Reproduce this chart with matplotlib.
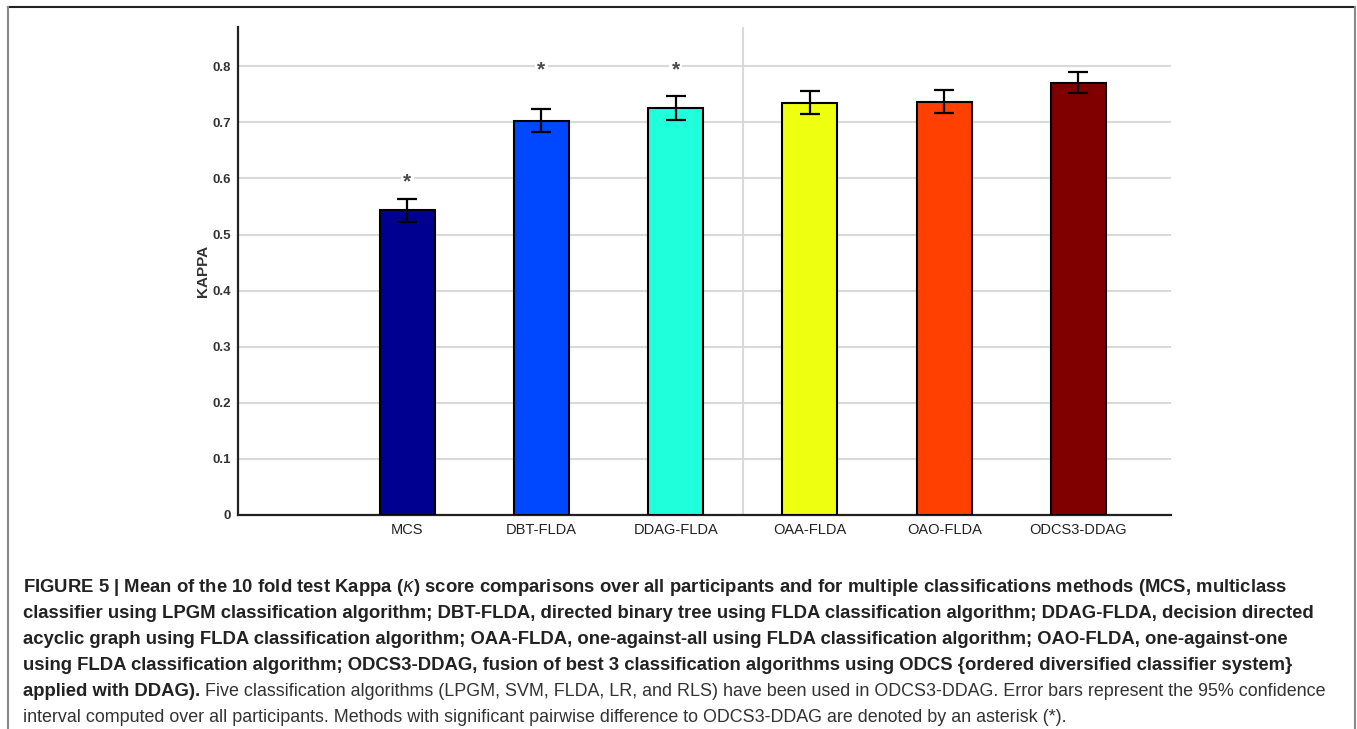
import matplotlib.pyplot as plt
from matplotlib.lines import Line2D
import numpy as np

plt.rcParams['font.family'] = ['Liberation Sans', 'DejaVu Sans']

# data
methods = ['MCS', 'DBT-FLDA', 'DDAG-FLDA', 'OAA-FLDA', 'OAO-FLDA', 'ODCS3-DDAG']
kappa = [0.543, 0.703, 0.726, 0.735, 0.737, 0.771]
ci95 = [0.020, 0.021, 0.021, 0.021, 0.021, 0.018]
colors = ['#000090', '#0048FF', '#20FFDC', '#EEFF10', '#FF4000', '#800000']
signif = [True, True, True, False, False, False]
star_y = [0.594, 0.793, 0.793, None, None, None]
yticks = [0, 0.1, 0.2, 0.3, 0.4, 0.5, 0.6, 0.7, 0.8]

fig = plt.figure(figsize=(13.57, 7.29), dpi=100)
ax = fig.add_axes([0.1754, 0.2936, 0.6876, 0.6694])

x = np.arange(1, len(methods) + 1)
ax.bar(x, kappa, width=0.41, color=colors, edgecolor='black', linewidth=1.5, zorder=3)
ax.errorbar(x, kappa, yerr=ci95, fmt='none', ecolor='black', elinewidth=1.6,
            capsize=7.2, capthick=1.6, zorder=4)

for xi, s, sy in zip(x, signif, star_y):
    if s:
        ax.text(xi, sy, '*', ha='center', va='center', fontsize=15, color='#4a4a4a',
                fontweight='bold', zorder=5,
                bbox=dict(boxstyle='square,pad=0.12', fc='white', ec='none'))

ax.set_xlim(-0.26, 6.69)
ax.set_ylim(0, 0.87)
ax.set_xticks(x)
ax.set_xticklabels(methods, fontsize=10.5, color='#222222')
ax.set_yticks(yticks)
ax.set_yticklabels(['0' if t == 0 else f'{t:.1f}' for t in yticks],
                   fontsize=9.5, fontweight='bold', color='#333333')
ax.tick_params(axis='both', length=0)
ax.tick_params(axis='x', pad=6)
ax.tick_params(axis='y', pad=5)
ax.set_ylabel('KAPPA', fontsize=11, fontweight='bold', color='#333333', labelpad=2)

ax.yaxis.grid(True, color='#d9d9d9', linewidth=1.5, zorder=0)
ax.axvline(3.5, color='#d9d9d9', linewidth=1.5, zorder=0)
for side in ['top', 'right']:
    ax.spines[side].set_visible(False)
for side in ['left', 'bottom']:
    ax.spines[side].set_linewidth(1.6)
    ax.spines[side].set_color('#222222')

# frame around figure (open at the bottom)
W, H = 1357, 729
fig.add_artist(Line2D([8 / W, 1355 / W], [1 - 7 / H, 1 - 7 / H], color='#222222', lw=1.5))
fig.add_artist(Line2D([8 / W, 8 / W], [0, 1 - 7 / H], color='#888888', lw=1.5))
fig.add_artist(Line2D([1355 / W, 1355 / W], [0, 1 - 7 / H], color='#888888', lw=1.5))

# caption
bold_lines = [
    'FIGURE 5 | Mean of the 10 fold test Kappa ($\\kappa$) score comparisons over all participants and for multiple classifications methods (MCS, multiclass',
    'classifier using LPGM classification algorithm; DBT-FLDA, directed binary tree using FLDA classification algorithm; DDAG-FLDA, decision directed',
    'acyclic graph using FLDA classification algorithm; OAA-FLDA, one-against-all using FLDA classification algorithm; OAO-FLDA, one-against-one',
    'using FLDA classification algorithm; ODCS3-DDAG, fusion of best 3 classification algorithms using ODCS {ordered diversified classifier system}',
]
bold_fs = 13.35
norm_fs = 12.9
cap_x = 23 / W
line_y = [587, 613, 639, 665, 691, 717]
for txt, yy in zip(bold_lines, line_y):
    fig.text(cap_x, 1 - yy / H, txt, fontsize=bold_fs, fontweight='bold', color='#222222', va='center')
t5 = fig.text(cap_x, 1 - line_y[4] / H, 'applied with DDAG).', fontsize=bold_fs,
              fontweight='bold', color='#222222', va='center')
ax.annotate(' Five classification algorithms (LPGM, SVM, FLDA, LR, and RLS) have been used in ODCS3-DDAG. Error bars represent the 95% confidence',
            xy=(1, 0.5), xycoords=t5, va='center', ha='left', fontsize=norm_fs, color='#333333',
            annotation_clip=False)
fig.text(cap_x, 1 - line_y[5] / H,
         'interval computed over all participants. Methods with significant pairwise difference to ODCS3-DDAG are denoted by an asterisk (*).',
         fontsize=norm_fs, color='#333333', va='center')

fig.savefig('out.png', dpi=100)
